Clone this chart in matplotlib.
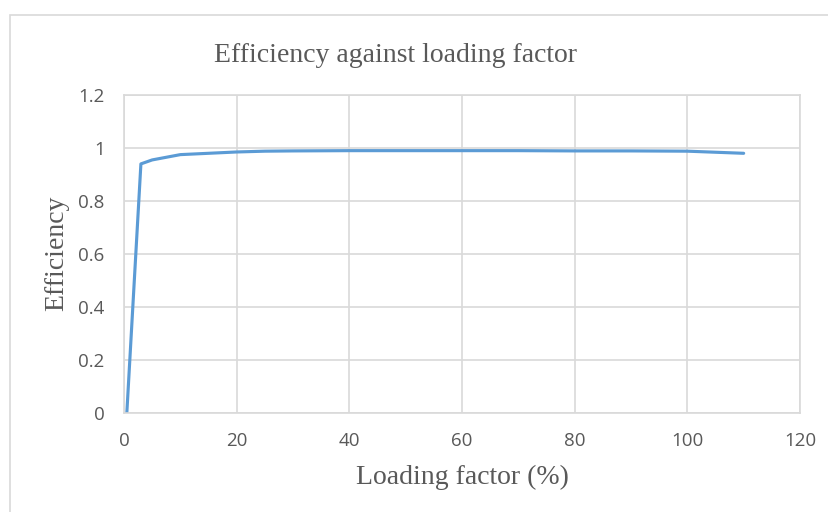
import matplotlib
matplotlib.use("Agg")
import matplotlib.pyplot as plt
from matplotlib.patches import Rectangle

# Measured efficiency versus loading factor
loading = [0.5, 3, 5, 10, 15, 20, 25, 30, 40, 50, 60, 70, 80, 90, 100, 110]
efficiency = [0.0, 0.94, 0.955, 0.975, 0.98, 0.985, 0.988, 0.989, 0.99, 0.99,
              0.99, 0.99, 0.989, 0.989, 0.988, 0.98]

x_ticks = [0, 20, 40, 60, 80, 100, 120]
y_ticks = [0, 0.2, 0.4, 0.6, 0.8, 1, 1.2]
y_tick_labels = ["0", "0.2", "0.4", "0.6", "0.8", "1", "1.2"]

W, H = 829, 512
fig = plt.figure(figsize=(W / 100, H / 100), dpi=100)
fig.patch.set_facecolor("white")

# chart frame
fig.add_artist(Rectangle((10 / W, -0.1), 1.2, 1 - 15 / H + 0.1,
                         transform=fig.transFigure, fill=False,
                         edgecolor="#d9d9d9", linewidth=1.2))

ax = fig.add_axes([124 / W, 1 - 413 / H, (800 - 124) / W, (413 - 95) / H])
ax.plot(loading, efficiency, color="#5B9BD5", linewidth=2.25,
        solid_joinstyle="round", solid_capstyle="round")

ax.set_xlim(0, 120)
ax.set_ylim(0, 1.2)
ax.set_xticks(x_ticks)
ax.set_yticks(y_ticks)
ax.set_yticklabels(y_tick_labels)
ax.grid(True, color="#d9d9d9", linewidth=1.2)
ax.set_axisbelow(True)
for s in ax.spines.values():
    s.set_color("#d9d9d9")
    s.set_linewidth(1.2)
ax.tick_params(length=0, labelsize=13.5, labelcolor="#595959")
ax.tick_params(axis="y", pad=14)
ax.tick_params(axis="x", pad=14)
for lab in ax.get_xticklabels() + ax.get_yticklabels():
    lab.set_family("Open Sans")

serif = dict(family="Liberation Serif", fontsize=20, color="#595959",
             ha="center", va="center")
fig.text(396 / W, 1 - 55 / H, "Efficiency against loading factor", **serif)
fig.text(462 / W, 1 - 477 / H, "Loading factor (%)", **serif)
fig.text(57 / W, 1 - 253 / H, "Efficiency", rotation=90, **serif)

fig.savefig("out.png", dpi=100)
